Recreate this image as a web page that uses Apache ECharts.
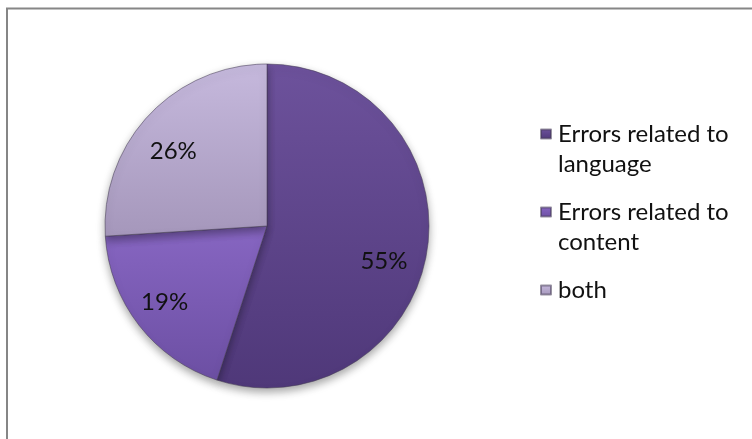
<!DOCTYPE html>
<html>
<head>
<meta charset="utf-8">
<script src="https://cdn.jsdelivr.net/npm/echarts@6/dist/echarts.min.js"></script>
<style>
  html, body { margin: 0; padding: 0; background: #ffffff; }
  #chart { width: 752px; height: 439px; }
</style>
</head>
<body>
<div id="chart"></div>
<script>
// Error categories and their shares (percent)
const categories = ['Errors related to language', 'Errors related to content', 'both'];
const legendLines = ['Errors related to\nlanguage', 'Errors related to\ncontent', 'both'];
const shares = [55, 19, 26];

// Slice fills: top colour, bottom colour
const sliceColors = [
  ['#6d529c', '#4f3879'],
  ['#8766c2', '#6c4fa3'],
  ['#c6b9dd', '#a597bb']
];
// Nudges for the percentage labels, in pixels
const labelNudges = [[-6, 16], [-4, 0], [-3, 10]];

const FONT = 'Lato, "Open Sans", sans-serif';
const CENTER = [267, 226];
const R = 162;

function grad(c) {
  return new echarts.graphic.LinearGradient(0, 0, 0, 1, [
    { offset: 0, color: c[0] },
    { offset: 1, color: c[1] }
  ]);
}

const sliceData = categories.map((name, i) => ({
  name: name,
  value: shares[i],
  itemStyle: { color: grad(sliceColors[i]) }
}));

const labelData = categories.map((name, i) => ({
  name: name,
  value: shares[i],
  label: { offset: labelNudges[i] }
}));

const chart = echarts.init(document.getElementById('chart'), null, { renderer: 'canvas' });

chart.setOption({
  animation: false,
  backgroundColor: '#ffffff',
  graphic: [{
    type: 'rect',
    shape: { x: 7, y: 8.5, width: 800, height: 500 },
    style: { fill: 'none', stroke: '#868686', lineWidth: 2 },
    silent: true,
    z: 100
  }],
  legend: {
    orient: 'vertical',
    left: 540,
    top: 89,
    padding: 0,
    itemGap: -12,
    itemWidth: 10,
    itemHeight: 9,
    icon: 'rect',
    selectedMode: false,
    data: categories,
    formatter: function (name) {
      const text = legendLines[categories.indexOf(name)];
      return text.indexOf('\n') >= 0 ? '\n' + text : '\n' + text + '\n';
    },
    textStyle: {
      fontFamily: FONT,
      fontSize: 24,
      lineHeight: 30,
      color: '#111111',
      padding: [0, 0, 0, 2]
    }
  },
  series: [
    {
      type: 'pie',
      center: CENTER,
      radius: [0, R],
      startAngle: 90,
      clockwise: true,
      silent: true,
      label: { show: false },
      labelLine: { show: false },
      itemStyle: {
        borderColor: 'rgba(70,60,85,0.55)',
        borderWidth: 1,
        shadowBlur: 9,
        shadowOffsetY: 4,
        shadowColor: 'rgba(0,0,0,0.35)'
      },
      data: sliceData
    },
    {
      // label ring: places the percentage labels at three quarters of the radius
      type: 'pie',
      center: CENTER,
      radius: [R / 2, R],
      startAngle: 90,
      clockwise: true,
      silent: true,
      itemStyle: { color: 'transparent', borderWidth: 0 },
      label: {
        show: true,
        position: 'inside',
        formatter: p => p.value + '%',
        fontFamily: FONT,
        fontSize: 24,
        color: '#111111'
      },
      labelLine: { show: false },
      data: labelData
    }
  ]
});
</script>
</body>
</html>
